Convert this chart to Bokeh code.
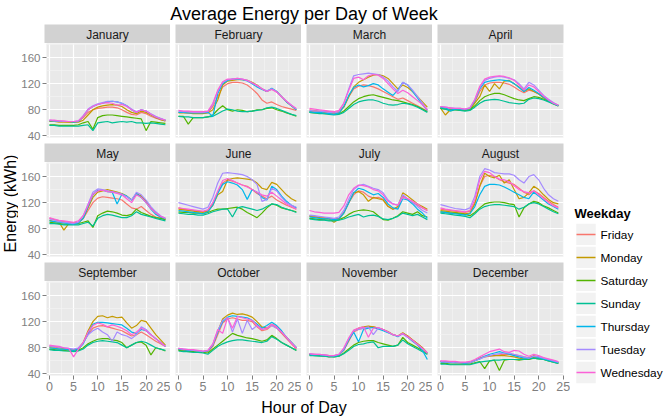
import math
from bokeh.plotting import figure
from bokeh.layouts import row, column
from bokeh.models import Range1d, FixedTicker, Label
from bokeh.embed import file_html
from bokeh.resources import INLINE

FONT = "Liberation Sans"
HOURS = list(range(25))
MONTHS = ["January", "February", "March", "April", "May", "June",
          "July", "August", "September", "October", "November", "December"]
WEEKDAYS = ["Friday", "Monday", "Saturday", "Sunday", "Thursday", "Tuesday", "Wednesday"]
COLORS = ["#F8766D", "#C49A00", "#53B400", "#00C094", "#00B6EB", "#A58AFF", "#FB61D7"]
X_TICKS = [0, 5, 10, 15, 20, 25]
X_MINOR = [2.5, 7.5, 12.5, 17.5, 22.5]
Y_TICKS = [40, 80, 120, 160]
Y_MINOR = [60, 100, 140, 180]

# Energy (kWh) by hour 0..24, order: Fri, Mon, Sat, Sun, Thu, Tue, Wed
JAN_FRI = [63,62,62,62,61,61,62,68,76,80,82,83,84,84,83,80,76,73,72,76,74,70,67,65,63]
JAN_MON = [62,62,61,61,61,61,61,64,72,80,84,86,87,88,87,85,80,76,74,78,76,72,68,65,63]
JAN_SAT = [57,57,56,56,56,56,57,60,62,50,68,71,72,72,71,70,69,68,67,66,48,62,61,60,59]
JAN_SUN = [56,56,55,55,55,55,55,56,57,48,60,61,62,60,61,62,61,62,60,60,59,60,59,58,57]
JAN_THU = [63,63,62,62,62,61,62,70,80,85,88,90,92,93,92,90,86,80,76,80,78,73,69,66,64]
JAN_TUE = [64,63,63,62,62,62,63,71,81,86,89,91,93,93,92,90,86,81,77,80,78,74,70,67,64]
JAN_WED = [64,64,63,63,62,62,63,70,80,85,88,90,91,90,87,88,85,80,76,80,78,73,69,66,64]

FEB_FRI = [76,76,75,75,75,75,76,85,100,115,120,122,122,121,118,112,105,95,90,92,88,85,83,81,79]
FEB_MON = [75,75,75,74,74,74,75,80,95,118,124,125,126,126,125,122,118,112,108,112,108,100,92,86,80]
FEB_SAT = [70,70,58,68,68,68,69,72,80,86,80,78,80,79,77,78,80,80,82,83,80,78,75,73,70]
FEB_SUN = [70,69,69,68,68,68,69,70,74,78,81,80,78,77,77,78,79,80,83,84,82,79,76,73,71]
FEB_THU = [76,76,75,75,75,75,76,70,105,120,125,127,127,126,124,120,115,111,108,113,108,100,92,86,80]
FEB_TUE = [78,77,77,76,76,76,77,88,108,122,126,127,128,127,125,121,117,112,109,112,108,100,93,87,81]
FEB_WED = [79,78,78,77,77,77,78,90,110,123,127,127,128,127,125,121,117,112,108,111,107,100,93,87,82]

MAR_FRI = [80,79,78,78,77,76,77,85,100,112,116,118,117,115,112,108,104,100,96,98,94,90,86,82,78]
MAR_MON = [78,77,77,76,75,74,76,84,100,115,122,126,130,133,134,132,128,120,112,118,114,108,100,92,84]
MAR_SAT = [76,75,75,74,74,73,74,78,85,92,97,100,102,103,101,99,97,95,94,92,90,88,85,81,77]
MAR_SUN = [76,75,74,74,73,72,73,76,82,88,92,94,95,95,93,90,88,87,88,90,89,87,84,80,76]
MAR_THU = [77,76,76,75,74,73,75,85,102,114,118,115,117,120,118,112,107,102,110,122,118,108,98,88,79]
MAR_TUE = [79,78,78,77,76,75,77,90,112,132,134,135,136,135,134,130,124,115,108,122,118,110,100,90,80]
MAR_WED = [82,81,80,79,78,77,79,90,110,128,130,126,132,134,133,128,120,112,105,110,106,100,94,88,80]

APR_FRI = [84,83,82,81,81,80,82,92,108,118,121,122,122,121,119,115,110,106,110,108,104,99,94,90,86]
APR_MON = [83,72,80,80,80,79,80,90,100,118,108,120,112,124,125,120,115,108,112,108,104,98,93,89,86]
APR_SAT = [82,81,80,80,79,79,80,86,94,100,103,105,105,103,100,97,95,94,97,100,99,96,93,90,87]
APR_SUN = [82,81,78,80,79,78,79,84,90,94,95,96,95,93,91,90,89,90,96,98,97,95,92,89,86]
APR_THU = [84,83,79,81,81,80,82,94,112,122,124,125,126,125,124,120,114,108,114,110,105,99,94,90,86]
APR_TUE = [85,84,83,82,82,81,83,95,114,125,128,130,131,130,128,126,120,112,122,118,110,102,96,91,87]
APR_WED = [85,84,83,82,82,81,83,96,116,127,130,131,132,131,129,125,118,110,118,115,108,101,95,90,87]

MAY_FRI = [96,94,92,91,90,89,90,96,108,120,127,129,128,127,126,124,118,112,110,114,108,102,98,96,94]
MAY_MON = [93,91,90,78,88,88,89,96,112,128,136,138,140,138,136,134,130,124,134,130,122,112,104,98,95]
MAY_SAT = [90,89,88,87,87,87,88,90,92,82,100,104,107,106,104,101,100,102,110,105,102,99,97,96,94]
MAY_SUN = [88,88,87,86,86,86,86,88,90,84,96,100,102,101,99,97,97,100,106,102,100,98,96,94,92]
MAY_THU = [92,91,90,89,88,87,89,96,114,132,139,139,137,136,118,133,130,124,134,128,120,110,102,98,95]
MAY_TUE = [95,93,91,90,89,88,90,100,118,136,141,140,138,137,135,133,129,124,136,132,124,114,106,100,96]
MAY_WED = [97,95,93,92,91,90,92,100,116,133,138,139,137,136,134,132,126,120,132,128,120,111,104,99,96]

JUN_FRI = [112,110,109,108,107,106,108,118,135,150,155,153,150,147,145,140,134,130,126,130,124,120,116,113,110]
JUN_MON = [110,109,108,107,106,105,107,116,132,137,155,157,158,157,156,155,150,142,140,151,148,140,132,126,122]
JUN_SAT = [106,105,105,104,104,103,105,108,110,110,111,112,113,110,105,101,97,104,112,118,116,112,110,108,106]
JUN_SUN = [104,103,102,102,101,101,103,106,108,110,110,98,112,114,112,110,108,110,114,118,117,113,110,108,105]
JUN_THU = [108,107,106,105,104,103,106,116,134,148,152,150,147,140,125,140,136,128,124,145,140,130,122,116,112]
JUN_TUE = [120,118,116,114,112,110,113,128,150,165,166,165,164,163,160,155,148,122,125,142,138,128,120,116,113]
JUN_WED = [112,111,110,109,108,107,109,120,138,154,157,154,150,147,144,140,136,132,130,136,130,124,118,114,110]

JUL_FRI = [100,99,98,97,96,95,96,105,120,132,138,136,130,127,128,125,115,110,112,130,125,120,116,112,108]
JUL_MON = [99,98,97,96,95,90,95,104,120,135,137,132,122,128,126,124,114,110,114,135,130,124,118,114,110]
JUL_SAT = [96,95,94,94,93,93,94,97,102,106,108,109,108,106,100,94,93,96,100,106,104,102,106,100,98]
JUL_SUN = [95,94,93,93,92,92,93,95,98,100,102,98,100,101,99,95,94,96,99,104,102,100,102,98,94]
JUL_THU = [98,97,96,95,95,94,95,104,120,135,142,140,136,132,134,128,118,112,110,126,124,118,110,104,96]
JUL_TUE = [101,100,99,98,97,96,98,108,125,140,146,148,145,142,140,135,124,118,116,132,126,120,114,108,104]
JUL_WED = [108,106,105,104,104,104,105,115,132,142,147,146,144,140,138,132,122,118,116,128,126,122,118,112,108]

AUG_FRI = [110,109,108,107,106,105,107,120,145,160,162,160,155,152,150,148,142,136,132,138,134,128,122,117,113]
AUG_MON = [108,107,106,105,104,103,104,118,145,165,160,158,162,150,155,140,126,128,135,145,140,132,125,120,118]
AUG_SAT = [106,105,104,104,103,102,100,105,112,118,120,121,121,120,118,117,98,112,118,122,120,115,112,108,104]
AUG_SUN = [104,103,102,101,100,99,97,103,110,114,116,117,117,116,115,114,110,113,118,120,118,114,110,106,103]
AUG_THU = [106,105,104,103,102,101,103,114,132,145,148,148,147,144,140,136,132,128,126,136,130,124,118,114,110]
AUG_TUE = [117,115,113,111,110,109,112,130,160,172,170,166,165,164,164,162,155,150,160,163,155,142,132,126,122]
AUG_WED = [112,110,109,108,107,106,108,125,155,168,166,160,156,155,152,146,140,137,135,138,132,126,120,115,112]

SEP_FRI = [82,81,80,79,78,77,79,88,100,110,113,114,112,110,108,106,102,98,100,104,100,95,90,86,82]
SEP_MON = [80,79,78,78,77,76,78,88,106,120,128,129,126,128,126,127,118,110,114,122,120,110,100,92,84]
SEP_SAT = [78,77,76,76,75,75,76,80,86,90,93,94,94,92,91,88,80,84,88,89,84,69,80,78,75]
SEP_SUN = [77,76,76,75,75,74,75,78,84,88,90,91,90,89,88,84,80,84,88,90,88,84,80,78,76]
SEP_THU = [80,79,78,78,77,76,78,86,102,116,119,119,118,117,116,115,110,104,102,108,106,100,94,88,82]
SEP_TUE = [83,82,81,80,79,78,80,88,100,106,110,104,100,90,104,100,98,94,100,112,108,100,94,88,82]
SEP_WED = [84,83,82,80,79,66,78,88,104,114,118,116,112,115,113,110,106,100,104,110,106,100,94,88,82]

OCT_FRI = [77,76,76,75,75,74,74,82,100,118,124,126,124,122,122,120,112,106,108,114,110,102,94,86,78]
OCT_MON = [78,77,76,75,75,74,75,84,105,124,130,133,131,132,130,127,120,112,110,116,112,104,96,88,80]
OCT_SAT = [76,75,74,74,73,73,72,78,84,90,96,102,99,97,95,94,92,90,92,99,94,88,84,80,76]
OCT_SUN = [75,74,74,73,73,72,70,76,82,86,89,91,92,92,91,90,89,88,90,97,93,88,84,80,76]
OCT_THU = [78,77,76,76,75,74,75,84,104,120,127,129,128,127,126,122,116,110,114,119,114,106,96,88,80]
OCT_TUE = [79,78,77,76,75,74,76,85,106,122,126,104,124,102,122,108,114,108,110,114,110,104,96,88,80]
OCT_WED = [79,78,77,77,76,75,76,86,108,102,126,110,128,126,124,122,114,108,110,116,112,104,96,87,79]

NOV_FRI = [70,70,69,69,68,68,69,76,90,104,108,110,111,112,110,108,104,100,98,102,98,92,86,80,72]
NOV_MON = [70,69,69,68,66,67,69,78,92,106,110,112,113,112,110,108,105,100,98,103,98,92,86,80,72]
NOV_SAT = [69,68,68,67,67,66,67,72,78,84,88,90,91,91,88,86,84,82,84,96,88,84,80,76,70]
NOV_SUN = [68,68,67,67,66,66,67,71,76,82,85,86,88,89,80,82,82,82,84,92,86,82,78,74,70]
NOV_THU = [70,69,69,68,68,67,69,77,92,104,89,108,110,111,109,106,103,100,97,102,96,90,84,76,62]
NOV_TUE = [71,70,70,69,68,68,70,78,94,106,108,110,112,100,110,108,104,100,98,101,96,91,85,79,72]
NOV_WED = [71,70,70,69,68,68,70,80,95,107,110,112,96,110,111,108,104,100,98,102,97,91,85,79,72]

DEC_FRI = [59,58,58,58,57,57,57,60,64,67,68,68,69,70,70,69,68,66,65,68,66,64,62,60,58]
DEC_MON = [59,58,58,57,57,56,57,60,64,66,67,68,68,68,67,66,64,63,62,66,65,63,61,59,57]
DEC_SAT = [56,56,55,55,55,55,55,57,59,48,60,61,45,61,62,62,61,62,62,64,63,62,60,58,56]
DEC_SUN = [55,55,54,54,54,54,54,56,58,59,60,61,61,62,62,62,62,62,63,64,63,62,60,58,56]
DEC_THU = [58,58,57,57,57,56,57,60,63,67,70,72,74,72,70,68,66,64,64,67,65,63,61,59,57]
DEC_TUE = [59,58,58,57,57,57,57,60,63,66,68,70,71,72,72,70,68,66,64,67,66,64,62,60,58]
DEC_WED = [60,60,59,59,58,58,59,62,66,70,74,76,78,74,73,76,75,70,67,70,68,65,63,61,59]

SERIES = [
    [JAN_FRI, JAN_MON, JAN_SAT, JAN_SUN, JAN_THU, JAN_TUE, JAN_WED],
    [FEB_FRI, FEB_MON, FEB_SAT, FEB_SUN, FEB_THU, FEB_TUE, FEB_WED],
    [MAR_FRI, MAR_MON, MAR_SAT, MAR_SUN, MAR_THU, MAR_TUE, MAR_WED],
    [APR_FRI, APR_MON, APR_SAT, APR_SUN, APR_THU, APR_TUE, APR_WED],
    [MAY_FRI, MAY_MON, MAY_SAT, MAY_SUN, MAY_THU, MAY_TUE, MAY_WED],
    [JUN_FRI, JUN_MON, JUN_SAT, JUN_SUN, JUN_THU, JUN_TUE, JUN_WED],
    [JUL_FRI, JUL_MON, JUL_SAT, JUL_SUN, JUL_THU, JUL_TUE, JUL_WED],
    [AUG_FRI, AUG_MON, AUG_SAT, AUG_SUN, AUG_THU, AUG_TUE, AUG_WED],
    [SEP_FRI, SEP_MON, SEP_SAT, SEP_SUN, SEP_THU, SEP_TUE, SEP_WED],
    [OCT_FRI, OCT_MON, OCT_SAT, OCT_SUN, OCT_THU, OCT_TUE, OCT_WED],
    [NOV_FRI, NOV_MON, NOV_SAT, NOV_SUN, NOV_THU, NOV_TUE, NOV_WED],
    [DEC_FRI, DEC_MON, DEC_SAT, DEC_SUN, DEC_THU, DEC_TUE, DEC_WED],
]

PANEL_BG = "#E9E9E9"
STRIP_BG = "#D2D2D2"
MINOR_GRID = "#F3F3F3"
TICK_TEXT = "#7F7F7F"

FRAME_W = 126
FRAME_H = 94
LEFT_BORDER = 26
GAP = 5
RIGHT_EXTRA = 7
YLAB_W = 18
LEGEND_W = 666 - YLAB_W - (LEFT_BORDER + FRAME_W) - 3 * (GAP + FRAME_W) - RIGHT_EXTRA


def blank(fig):
    fig.grid.visible = False
    fig.outline_line_color = None


def fig_widths(c):
    left = LEFT_BORDER if c == 0 else GAP
    right = RIGHT_EXTRA if c == 3 else 0
    return left, right, left + FRAME_W + right


def make_strip(name, c):
    left, right, w = fig_widths(c)
    p = figure(width=w, height=19, x_range=Range1d(0, 1), y_range=Range1d(0, 1),
               output_backend="svg", toolbar_location=None,
               x_axis_location=None, y_axis_location=None,
               min_border_left=left, min_border_right=right, min_border_top=0, min_border_bottom=0,
               background_fill_color=STRIP_BG, border_fill_color="white")
    blank(p)
    p.add_layout(Label(x=0.5, y=0.45, text=name, text_align="center", text_baseline="middle",
                       text_font=FONT, text_font_size="12px", text_color="#1A1A1A"))
    return p


def make_panel(m, r, c):
    left, right, w = fig_widths(c)
    bottom_row = (r == 2)
    bottom = 22 if bottom_row else 6
    p = figure(width=w, height=FRAME_H + bottom,
               x_range=Range1d(-0.6, 25.05), y_range=Range1d(37.5, 181.5),
               output_backend="svg", toolbar_location=None,
               x_axis_location="below" if bottom_row else None,
               y_axis_location="left" if c == 0 else None,
               min_border_left=left, min_border_right=right, min_border_top=0,
               min_border_bottom=bottom,
               background_fill_color=PANEL_BG, border_fill_color="white",
               outline_line_color=None)
    p.xgrid.ticker = FixedTicker(ticks=X_TICKS, minor_ticks=X_MINOR)
    p.ygrid.ticker = FixedTicker(ticks=Y_TICKS, minor_ticks=Y_MINOR)
    for g in p.grid:
        g.grid_line_color = "white"
        g.grid_line_width = 1.2
        g.minor_grid_line_color = MINOR_GRID
        g.minor_grid_line_width = 0.7
    for ax in p.axis:
        ax.axis_line_color = None
        ax.major_tick_line_color = TICK_TEXT
        ax.major_tick_out = 4
        ax.major_tick_in = 0
        ax.minor_tick_line_color = None
        ax.major_label_text_color = TICK_TEXT
        ax.major_label_text_font = FONT
        ax.major_label_standoff = 2
    if bottom_row:
        p.xaxis.ticker = FixedTicker(ticks=X_TICKS)
        p.xaxis.major_label_text_font_size = "12.5px"
    if c == 0:
        p.yaxis.ticker = FixedTicker(ticks=Y_TICKS)
        p.yaxis.major_label_text_font_size = "11.5px"
    for vals, color in zip(SERIES[m], COLORS):
        p.line(HOURS, vals, line_color=color, line_width=1.2)
    return p


rows = []
for r in range(3):
    strips = []
    panels = []
    for c in range(4):
        m = r * 4 + c
        strips.append(make_strip(MONTHS[m], c))
        panels.append(make_panel(m, r, c))
    rows.append(row(*strips, spacing=0))
    rows.append(row(*panels, spacing=0))

grid_w = sum(fig_widths(c)[2] for c in range(4))

xlab = figure(width=grid_w, height=22, x_range=Range1d(0, grid_w), y_range=Range1d(22, 0),
              output_backend="svg", toolbar_location=None,
              x_axis_location=None, y_axis_location=None,
              min_border=0, border_fill_color="white", background_fill_color="white")
blank(xlab)
xlab.add_layout(Label(x=LEFT_BORDER + (4 * FRAME_W + 3 * GAP) / 2, y=10, text="Hour of Day",
                      text_align="center", text_baseline="middle",
                      text_font=FONT, text_font_size="16px", text_color="black"))
rows.append(xlab)
grid_col = column(*rows, spacing=0)

total_h = 19 * 3 + (FRAME_H + 6) * 2 + (FRAME_H + 22) + 22

ylab = figure(width=YLAB_W, height=total_h, x_range=Range1d(0, YLAB_W), y_range=Range1d(total_h, 0),
              output_backend="svg", toolbar_location=None,
              x_axis_location=None, y_axis_location=None,
              min_border=0, border_fill_color="white", background_fill_color="white")
blank(ylab)
ylab.add_layout(Label(x=10, y=179, text="Energy (kWh)", angle=math.pi / 2, angle_units="rad",
                      text_align="center", text_baseline="middle",
                      text_font=FONT, text_font_size="16px", text_color="black"))

leg = figure(width=LEGEND_W, height=total_h, x_range=Range1d(0, LEGEND_W), y_range=Range1d(total_h, 0),
             output_backend="svg", toolbar_location=None,
             x_axis_location=None, y_axis_location=None,
             min_border=0, border_fill_color="white", background_fill_color="white")
blank(leg)
leg.add_layout(Label(x=4, y=189, text="Weekday", text_align="left", text_baseline="middle",
                     text_font=FONT, text_font_size="13px", text_font_style="bold",
                     text_color="black"))
key_y0 = 210
key_step = 23
for i, (name, color) in enumerate(zip(WEEKDAYS, COLORS)):
    yc = key_y0 + i * key_step
    leg.quad(left=[5], right=[26], top=[yc - key_step / 2], bottom=[yc + key_step / 2],
             fill_color="#F2F2F2", line_color="white", line_width=1.5)
    leg.segment(x0=[6], x1=[25], y0=[yc], y1=[yc], line_color=color, line_width=1.3)
    leg.add_layout(Label(x=30, y=yc, text=name, text_align="left", text_baseline="middle",
                         text_font=FONT, text_font_size="11.8px", text_color="black"))

title = figure(width=666, height=24, x_range=Range1d(0, 666), y_range=Range1d(24, 0),
               output_backend="svg", toolbar_location=None,
               x_axis_location=None, y_axis_location=None,
               min_border=0, border_fill_color="white", background_fill_color="white")
blank(title)
title.add_layout(Label(x=YLAB_W + LEFT_BORDER + (4 * FRAME_W + 3 * GAP) / 2, y=13,
                       text="Average Energy per Day of Week", text_align="center",
                       text_baseline="middle", text_font=FONT, text_font_size="18px",
                       text_color="black"))

layout = column(title, row(ylab, grid_col, leg, spacing=0), spacing=0)

open("out.html", "w").write(file_html(layout, INLINE))
